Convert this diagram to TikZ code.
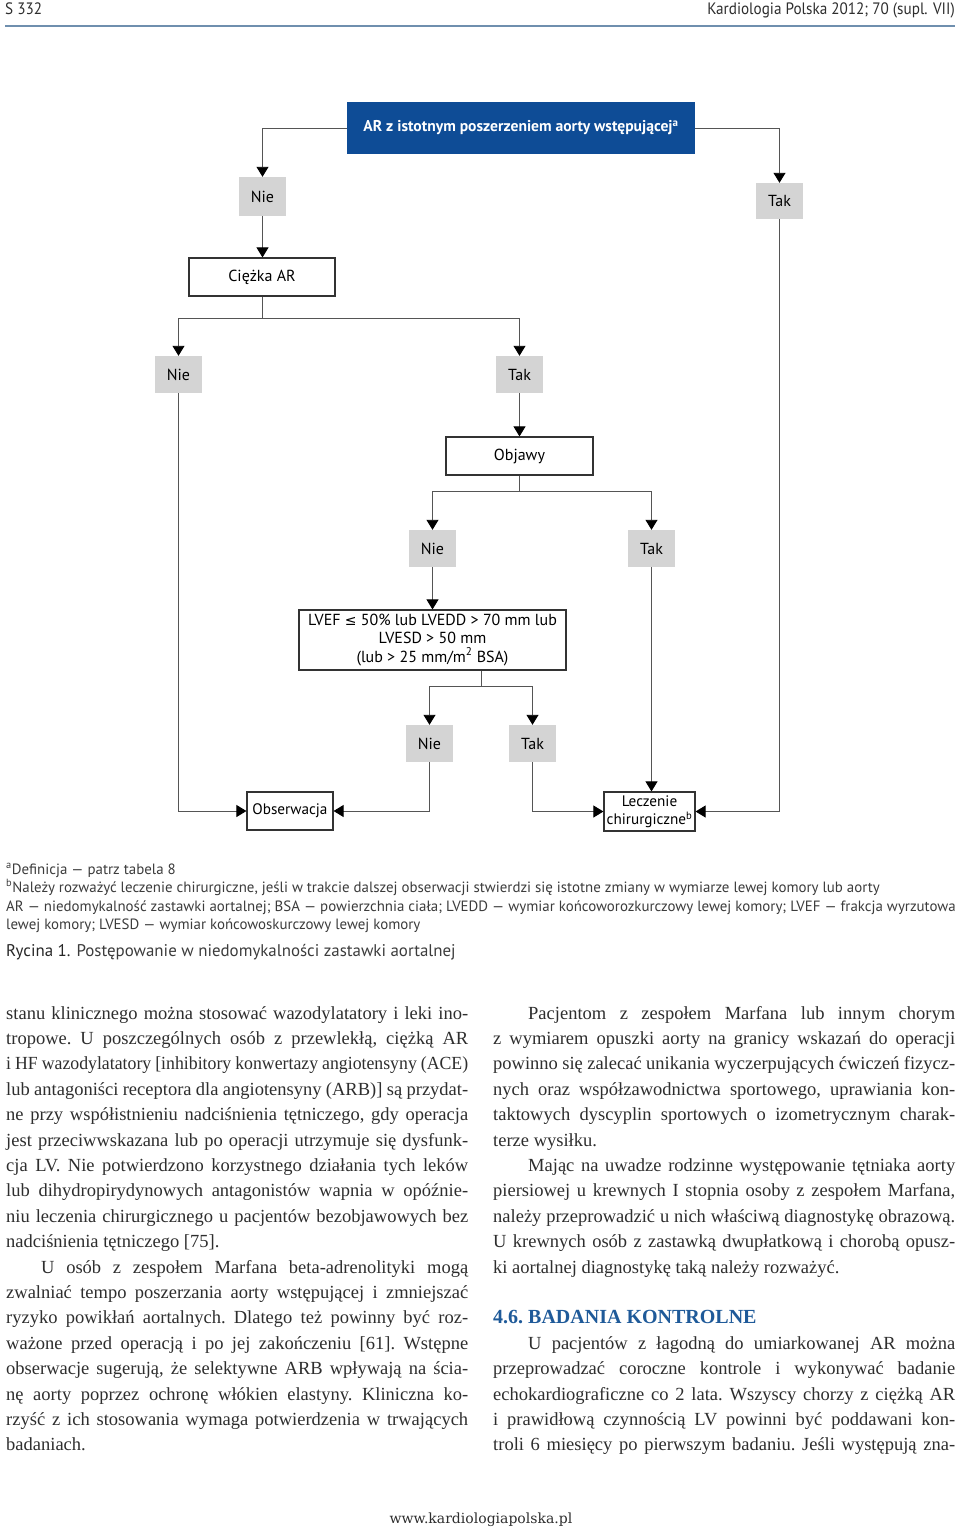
\documentclass[tikz,border=0pt]{standalone}
\usepackage{fontspec}
\setmainfont{Liberation Serif}
\newfontfamily\fpt{PT Sans}
\newfontfamily\fptn[FakeStretch=0.92]{PT Sans}
\newfontfamily\fdv{DejaVu Sans}
\newfontfamily\fweb{DejaVu Serif}
\usetikzlibrary{arrows.meta}
\definecolor{arblue}{HTML}{0E4C96}
\definecolor{boxgray}{HTML}{D4D4D4}
\definecolor{linegray}{HTML}{555555}
\definecolor{ruleblue}{HTML}{6F8FAE}
\definecolor{txt}{HTML}{2E2E2E}
\definecolor{fnt}{HTML}{3C3C3C}
\definecolor{hblue}{HTML}{1F5A99}
\newcommand{\fcfont}{\fpt\fontsize{16}{18.3}\selectfont}
\newcommand{\bodyfont}{\fontsize{18.5}{25.4}\selectfont\frenchspacing}
\newcommand{\jline}[1]{\makebox[462pt][s]{#1}\par}
\newcommand{\jlinesq}[1]{\scalebox{0.96}[1]{\makebox[\dimexpr 462pt*100/96\relax][s]{#1}}\par}
\newcommand{\lline}[1]{#1\par}
\newcommand{\ind}{\hspace*{35pt}}
\tikzset{
  grayb/.style={fill=boxgray, minimum width=47pt, minimum height=37pt, inner sep=0pt, font=\fcfont, text=black},
  whiteb/.style={draw=black!80, line width=1.2pt, fill=white, inner sep=2pt, font=\fcfont, align=center, text=black},
  conn/.style={draw=linegray, line width=0.9pt},
  arr/.style={conn, -{Triangle[width=12pt,length=10pt,color=black]}},
  hdr/.style={font=\fptn\fontsize{16.5}{18}\selectfont, text=txt, inner sep=0pt},
  fnote/.style={font=\fpt\fontsize{14.9}{16}\selectfont, text=fnt, inner sep=0pt, anchor=base west},
  col/.style={inner sep=0pt, anchor=base west, text=txt}
}
\begin{document}
\begin{tikzpicture}[x=1pt,y=-1pt]
\fill[white] (0,0) rectangle (960,1529);
\useasboundingbox (0,0) rectangle (960,1529);

% header
\node[hdr, anchor=base west] (pg) at (5,14) {S 332};
\node[hdr, anchor=base east] (jr) at (955,14) {Kardiologia Polska 2012; 70 (supl. VII)};
\draw[ruleblue, line width=2pt] (5,26) -- (955,26);

% flowchart nodes
\node[fill=arblue, minimum width=348pt, minimum height=52pt, inner sep=0pt, text=white, font=\fpt\bfseries\fontsize{15.6}{18}\selectfont] (top) at (521,128) {AR z istotnym poszerzeniem aorty wstępującej\textsuperscript{a}};
\node[grayb, minimum height=39pt] (nie1) at (262.5,196.5) {Nie};
\node[grayb, minimum height=36pt] (tak1) at (779.5,201) {Tak};
\node[whiteb, minimum width=146pt, minimum height=38pt] (ciezka) at (262,277) {Ciężka AR};
\node[grayb] (nie2) at (178.5,374.5) {Nie};
\node[grayb] (tak2) at (519.5,374.5) {Tak};
\node[whiteb, minimum width=147pt, minimum height=38pt] (objawy) at (519.5,456) {Objawy};
\node[grayb] (nie3) at (432.5,548.5) {Nie};
\node[grayb] (tak3) at (651.5,548.5) {Tak};
\node[whiteb, minimum width=267pt, minimum height=60pt, inner sep=1pt] (lvef) at (432.5,640) {LVEF {\fdv\fontsize{14}{18.3}\selectfont ≤} 50\% lub LVEDD > 70 mm lub\\LVESD > 50 mm\\(lub > 25 mm/m\textsuperscript{2} BSA)};
\node[grayb] (nie4) at (429.5,743.5) {Nie};
\node[grayb] (tak4) at (532.5,743.5) {Tak};
\node[whiteb, minimum width=86pt, minimum height=38pt, inner sep=1pt, font=\fpt\fontsize{15.2}{18.3}\selectfont] (obs) at (290,811) {Obserwacja};
\node[whiteb, minimum width=91pt, minimum height=39pt, inner sep=1pt, font=\fpt\fontsize{15.2}{18.3}\selectfont] (lecz) at (649.5,811.5) {Leczenie\\chirurgiczne\textsuperscript{b}};

% connectors
\draw[arr] (top.west) -| (nie1.north);
\draw[arr] (top.east) -| (tak1.north);
\draw[arr] (nie1.south) -- (nie1.south |- ciezka.north);
\draw[conn] (ciezka.south) -- ++(0,22) coordinate (c1);
\draw[arr] (c1) -| (nie2.north);
\draw[arr] (c1) -| (tak2.north);
\draw[arr] (tak2.south) -- (objawy.north);
\draw[conn] (objawy.south) -- ++(0,16) coordinate (c2);
\draw[arr] (c2) -| (nie3.north);
\draw[arr] (c2) -| (tak3.north);
\draw[arr] (nie3.south) -- (lvef.north);
\path (lvef.south) ++(48.5,0) coordinate (c3s);
\draw[conn] (c3s) -- ++(0,16) coordinate (c3);
\draw[arr] (c3) -| (nie4.north);
\draw[arr] (c3) -| (tak4.north);
\draw[arr] (nie2.south) |- (obs.west);
\draw[arr] (nie4.south) |- (obs.east);
\draw[arr] (tak4.south) |- (lecz.west);
\draw[arr] (tak3.south) -- (tak3.south |- lecz.north);
\draw[arr] (tak1.south) |- (lecz.east);

% footnotes
\node[fnote] (fa) at (6,874) {\textsuperscript{a}Definicja — patrz tabela 8};
\node[fnote] (fb) at (6,892) {\textsuperscript{b}Należy rozważyć leczenie chirurgiczne, jeśli w trakcie dalszej obserwacji stwierdzi się istotne zmiany w wymiarze lewej komory lub aorty};
\node[fnote] (fc) at (6,911) {AR — niedomykalność zastawki aortalnej; BSA — powierzchnia ciała; LVEDD — wymiar końcoworozkurczowy lewej komory; LVEF — frakcja wyrzutowa};
\node[fnote] (fd) at (6,929) {lewej komory; LVESD — wymiar końcowoskurczowy lewej komory};
\node[fnote, font=\fpt\fontsize{16.9}{18}\selectfont] (cap) at (6,956) {{\color{black!85}Rycina 1.} Postępowanie w niedomykalności zastawki aortalnej};

% body columns
\node[col] (left) at (6,1019) {\parbox[t]{462pt}{\bodyfont\parindent=0pt
\jline{stanu klinicznego można stosować wazodylatatory i leki ino-}
\jline{tropowe. U poszczególnych osób z przewlekłą, ciężką AR}
\jlinesq{i HF wazodylatatory [inhibitory konwertazy angiotensyny (ACE)}
\jline{lub antagoniści receptora dla angiotensyny (ARB)] są przydat-}
\jline{ne przy współistnieniu nadciśnienia tętniczego, gdy operacja}
\jline{jest przeciwwskazana lub po operacji utrzymuje się dysfunk-}
\jline{cja LV. Nie potwierdzono korzystnego działania tych leków}
\jline{lub dihydropirydynowych antagonistów wapnia w opóźnie-}
\jline{niu leczenia chirurgicznego u pacjentów bezobjawowych bez}
\lline{nadciśnienia tętniczego [75].}
\jline{\ind U osób z zespołem Marfana beta-adrenolityki mogą}
\jline{zwalniać tempo poszerzania aorty wstępującej i zmniejszać}
\jline{ryzyko powikłań aortalnych. Dlatego też powinny być roz-}
\jline{ważone przed operacją i po jej zakończeniu [61]. Wstępne}
\jline{obserwacje sugerują, że selektywne ARB wpływają na ścia-}
\jline{nę aorty poprzez ochronę włókien elastyny. Kliniczna ko-}
\jline{rzyść z ich stosowania wymaga potwierdzenia w trwających}
\lline{badaniach.}
}};
\node[col] (right) at (493,1019) {\parbox[t]{462pt}{\bodyfont\parindent=0pt
\jline{\ind Pacjentom z zespołem Marfana lub innym chorym}
\jline{z wymiarem opuszki aorty na granicy wskazań do operacji}
\jline{powinno się zalecać unikania wyczerpujących ćwiczeń fizycz-}
\jline{nych oraz współzawodnictwa sportowego, uprawiania kon-}
\jline{taktowych dyscyplin sportowych o izometrycznym charak-}
\lline{terze wysiłku.}
\jline{\ind Mając na uwadze rodzinne występowanie tętniaka aorty}
\jline{piersiowej u krewnych I stopnia osoby z zespołem Marfana,}
\jline{należy przeprowadzić u nich właściwą diagnostykę obrazową.}
\jline{U krewnych osób z zastawką dwupłatkową i chorobą opusz-}
\lline{ki aortalnej diagnostykę taką należy rozważyć.}
\lline{\mbox{}}
\lline{{\color{hblue}\bfseries\fontsize{20}{25.4}\selectfont 4.6. BADANIA KONTROLNE}}
\jline{\ind U pacjentów z łagodną do umiarkowanej AR można}
\jline{przeprowadzać coroczne kontrole i wykonywać badanie}
\jline{echokardiograficzne co 2 lata. Wszyscy chorzy z ciężką AR}
\jline{i prawidłową czynnością LV powinni być poddawani kon-}
\jline{troli 6 miesięcy po pierwszym badaniu. Jeśli występują zna-}
}};

% footer
\node[inner sep=0pt, anchor=base, font=\fweb\fontsize{14}{16}\selectfont, text=txt] (web) at (481,1523) {www.kardiologiapolska.pl};
\end{tikzpicture}
\end{document}
